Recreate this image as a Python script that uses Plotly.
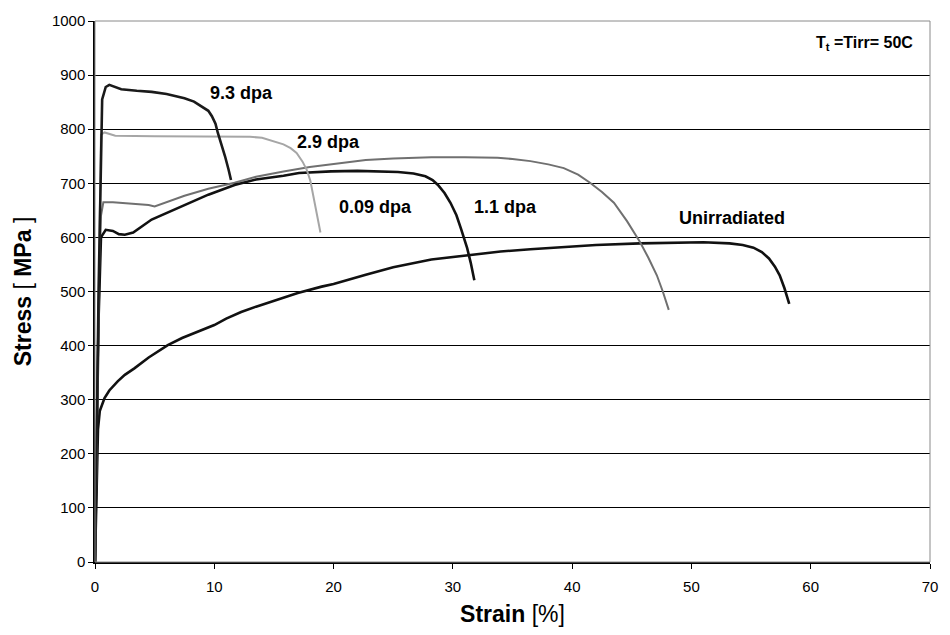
import plotly.graph_objects as go

# ---- data (strain %, stress MPa) ----
unirr_x = [0, 0.15, 0.25, 0.4, 0.6, 0.8, 1.2, 1.9, 2.5, 3.3, 4.5, 6.1, 7.3, 8.6, 10, 11, 12.25, 13.5, 15, 17, 19, 20,
           22.7, 25, 28.2, 31.5, 34, 36.5, 39, 42, 45.7, 49, 51, 53.2, 54.3, 55.2, 55.9, 56.5, 57, 57.4, 57.8, 58.2]
unirr_y = [0, 120, 245, 279, 293, 303, 317, 334, 346, 358, 378, 401, 414, 426, 438, 450, 462, 472, 483, 497, 509, 514,
           531, 545, 559, 568, 574, 578, 582, 586, 589, 591, 591, 589, 586, 581, 573, 561, 546, 530, 506, 477]

d11_x = [0, 0.3, 0.5, 0.7, 1.5, 3, 4.5, 5, 6, 7.5, 9.5, 11.7, 13.5, 15.8, 18, 20, 22.7, 25, 28.2, 31, 33.75, 35, 36.5,
         38, 39.3, 40.5, 41.5, 42.5, 43.5, 44.6, 45.7, 46.4, 47.1, 47.6, 48.1]
d11_y = [0, 450, 640, 665, 665, 662, 660, 657, 665, 677, 690, 701, 712, 722, 730, 736, 743, 746, 748, 748, 747, 745, 741,
         735, 728, 716, 701, 684, 664, 630, 591, 562, 530, 500, 466]

d009_x = [0, 0.3, 0.5, 0.9, 1.5, 2, 2.5, 3.2, 4.75, 7.5, 9.5, 11.7, 13.5, 15.8, 17.1, 19.8, 22, 25.4, 26.7, 27.7, 28.3,
          28.75, 29.3, 29.8, 30.3, 30.7, 31.2, 31.5, 31.8]
d009_y = [0, 450, 600, 614, 612, 606, 605, 609, 633, 659, 679, 697, 707, 714, 719, 722, 723, 721, 718, 713, 706,
          697, 682, 664, 641, 615, 580, 553, 521]

d29_x = [0, 0.3, 0.5, 0.8, 1.7, 5, 10, 13, 14, 14.8, 15.8, 16.4, 16.9, 17.4, 17.75, 18.05, 18.3, 18.6, 18.9]
d29_y = [0, 500, 790, 794, 788, 787, 787, 786, 784, 779, 772, 765, 756, 740, 725, 705, 677, 645, 609]

d93_x = [0, 0.3, 0.6, 0.9, 1.2, 1.6, 2.2, 3.5, 4.75, 6, 7.5, 8.3, 9, 9.5, 9.8, 10.1, 10.3, 10.6, 10.9, 11.2, 11.4]
d93_y = [0, 500, 855, 878, 882, 879, 874, 871, 869, 865, 857, 851, 842, 834, 824, 810, 793, 772, 750, 725, 706]

labels = ["9.3 dpa", "2.9 dpa", "0.09 dpa", "1.1 dpa", "Unirradiated"]
label_x = [12.3, 19.6, 23.5, 34.4, 53.4]
label_y = [866, 776, 657, 657, 635]

x_ticks = [0, 10, 20, 30, 40, 50, 60, 70]
y_ticks = [0, 100, 200, 300, 400, 500, 600, 700, 800, 900, 1000]

fig = go.Figure()
series = [
    (unirr_x, unirr_y, "#111111", 2.6),
    (d11_x, d11_y, "#707070", 2.0),
    (d009_x, d009_y, "#111111", 2.6),
    (d29_x, d29_y, "#a6a6a6", 2.0),
    (d93_x, d93_y, "#1a1a1a", 2.6),
]
for xs, ys, c, w in series:
    fig.add_trace(go.Scatter(x=xs, y=ys, mode="lines",
                             line=dict(color=c, width=w), showlegend=False))

for t, lx, ly in zip(labels, label_x, label_y):
    fig.add_annotation(x=lx, y=ly, text="<b>" + t + "</b>", showarrow=False,
                       font=dict(family="Liberation Sans, Arial", size=18, color="black"))

fig.add_annotation(x=64.5, y=958, text="<b>T<sub>t</sub> =Tirr= 50C</b>", showarrow=False,
                   font=dict(family="Liberation Sans, Arial", size=16, color="black"))

fig.add_shape(type="rect", xref="paper", yref="paper", x0=0, y0=0, x1=1, y1=1,
              line=dict(color="#8a8a8a", width=1))

fig.update_layout(
    width=950, height=635,
    margin=dict(l=95, r=15, t=17, b=73),
    plot_bgcolor="white", paper_bgcolor="white",
    font=dict(family="Liberation Sans, Arial", size=15, color="black"),
    xaxis=dict(range=[0, 70], tickvals=x_ticks, ticks="outside", ticklen=5,
               tickcolor="black", showgrid=False, zeroline=False,
               showline=True, linecolor="black", linewidth=1.5, ticklabelstandoff=5,
               title=dict(text="<b>Strain</b> [%]", font=dict(size=23), standoff=12)),
    yaxis=dict(range=[0, 1000], tickvals=y_ticks, ticks="outside", ticklen=5,
               tickcolor="black", showgrid=True, gridcolor="black", gridwidth=1,
               zeroline=False, showline=True, linecolor="black", linewidth=1.5,
               title=dict(text="<b>Stress </b>[<b> MPa </b>]", font=dict(size=23), standoff=14)),
)

fig.write_html("out.html")
